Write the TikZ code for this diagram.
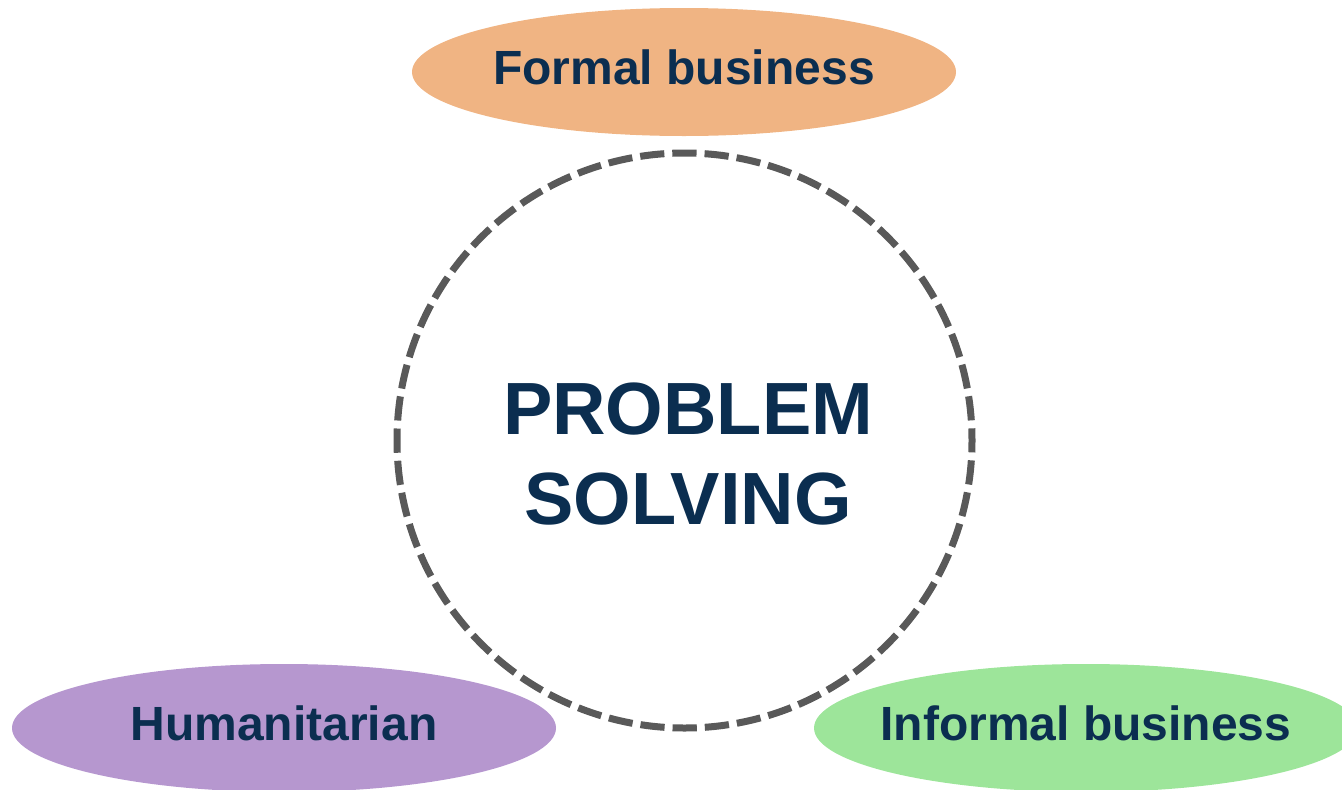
\documentclass[tikz,border=0pt]{standalone}
\usepackage{fontspec}
\setmainfont{Liberation Sans}
\usepackage{xcolor}
\usetikzlibrary{shapes,shapes.geometric}

\definecolor{navy}{HTML}{0B2E50}
\definecolor{ringgray}{HTML}{595959}
\definecolor{formalorange}{HTML}{F0B483}
\definecolor{humanpurple}{HTML}{B697CF}
\definecolor{informalgreen}{HTML}{9DE59A}

\tikzset{
  field/.style={ellipse, minimum width=408pt, minimum height=96pt, inner xsep=-12pt,
    inner ysep=0pt, text=navy, text depth=8pt, font=\fontsize{36pt}{43pt}\selectfont\bfseries},
  hub/.style={circle, draw=ringgray, line width=5.25pt, minimum size=431.25pt,
    inner sep=0pt, dash pattern=on 18.2pt off 6pt, dash phase=9.1pt},
  title/.style={align=center, text=navy,
    font=\fontsize{55.5pt}{67.5pt}\selectfont\bfseries}
}

\begin{document}
\begin{tikzpicture}[x=0.75pt,y=-0.75pt]
			\useasboundingbox (0,0) rectangle (1342,789);
			\node[hub] (hub) at (684.5,440.5) {};
			\node[title] (ps) at (688,454) {PROBLEM\\SOLVING};
			
			\node[field, fill=formalorange] (formal) at (684,72) {Formal business};
			\node[field, fill=humanpurple] (human) at (284,728) {Humanitarian};
			\node[field, fill=informalgreen] (informal) at (1086,728) {Informal business};
			
		\end{tikzpicture}
\end{document}
